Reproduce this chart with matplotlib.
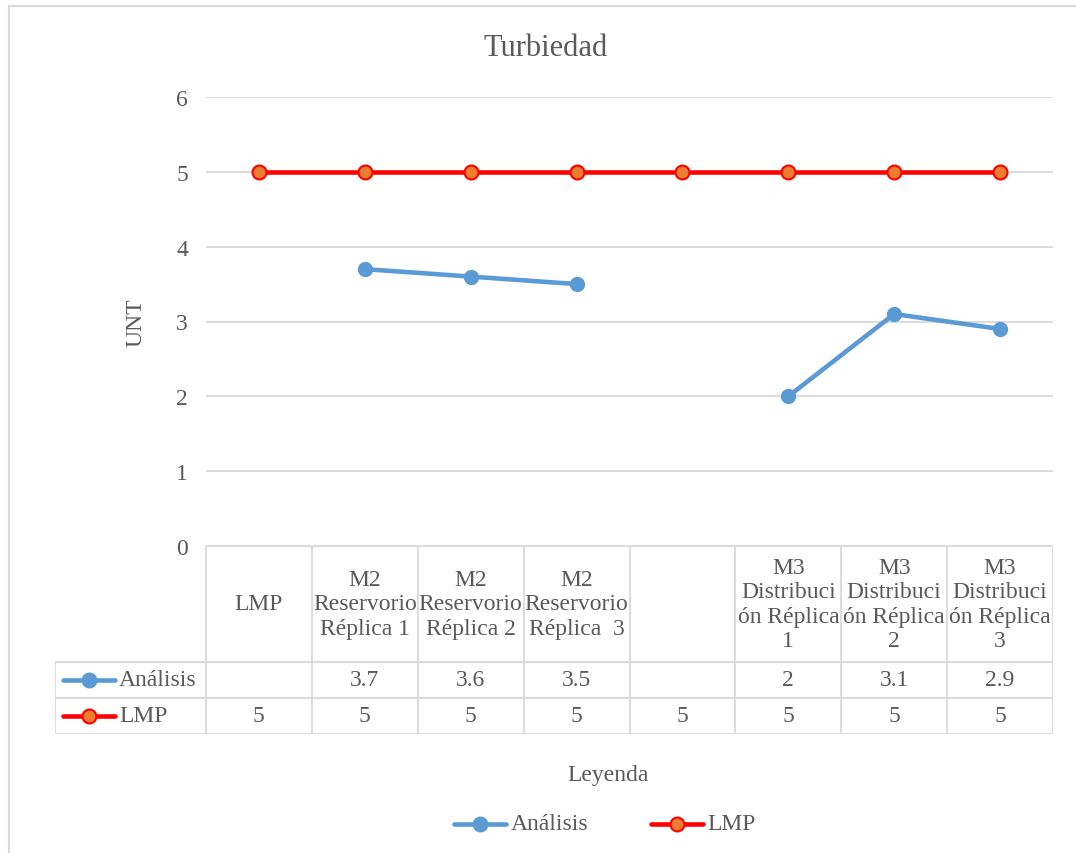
import numpy as np
import matplotlib
matplotlib.use("Agg")
import matplotlib.pyplot as plt
from matplotlib.lines import Line2D

# data
categorias = ["LMP", "M2\nReservorio\nRéplica 1", "M2\nReservorio\nRéplica 2",
              "M2\nReservorio\nRéplica  3", "", "M3\nDistribuci\nón Réplica\n1",
              "M3\nDistribuci\nón Réplica\n2", "M3\nDistribuci\nón Réplica\n3"]
analisis = [np.nan, 3.7, 3.6, 3.5, np.nan, 2, 3.1, 2.9]
lmp = [5, 5, 5, 5, 5, 5, 5, 5]
analisis_txt = ["", "3.7", "3.6", "3.5", "", "2", "3.1", "2.9"]
lmp_txt = ["5", "5", "5", "5", "5", "5", "5", "5"]
yticks = [0, 1, 2, 3, 4, 5, 6]

plt.rcParams['font.family'] = ['Liberation Serif', 'DejaVu Serif']
gris = "#595959"
linea = "#d9d9d9"
azul = "#5B9BD5"
W, H = 1076, 854
fig = plt.figure(figsize=(W / 100, H / 100), dpi=100)

def fx(px):
    return px / W

def fy(py):
    return 1 - py / H

# chart border (top and left visible)
fig.add_artist(Line2D([fx(9), 1], [fy(7), fy(7)], color=linea, lw=1.5))
fig.add_artist(Line2D([fx(9), fx(9)], [fy(7), 0], color=linea, lw=1.5))

# plot area
x0, x1, ytop, ybot = 206, 1053, 98, 547
ax = fig.add_axes([fx(x0), fy(ybot), fx(x1) - fx(x0), fy(ytop) - fy(ybot)])
n = len(categorias)
x = np.arange(n)
ax.set_xlim(-0.5, n - 0.5)
ax.set_ylim(0, 6)
ax.set_yticks(yticks)
ax.grid(axis="y", color=linea, lw=1.3)
ax.set_axisbelow(True)
for s in ax.spines.values():
    s.set_visible(False)
ax.tick_params(axis="y", length=0, pad=13, labelsize=17, labelcolor=gris)
ax.tick_params(axis="x", length=0, labelbottom=False)
ax.set_yticklabels([str(t) for t in yticks])
ax.set_ylabel("UNT", fontsize=17, color=gris, labelpad=21)

ax.plot(x, analisis, color=azul, lw=3.3, marker="o", ms=10, mfc=azul, mec=azul,
        solid_capstyle="round", zorder=3)
ax.plot(x, lmp, color="#FF0000", lw=3.3, marker="o", ms=10, mfc="#ED7D31",
        mec="#FF0000", mew=1.5, zorder=3)

fig.text(fx(546), fy(48), "Turbiedad", ha="center", va="center", fontsize=22, color=gris)

# data table
tl = 55
unit = (x1 - x0) / n
tab = fig.add_axes([fx(tl), fy(735), fx(x1) - fx(tl), fy(547) - fy(735)])
tab.set_xlim(-0.5 - (x0 - tl) / unit, n - 0.5)
tab.set_ylim(0, 188)
tab.axis("off")
xl = -0.5 - (x0 - tl) / unit
# horizontal lines
tab.plot([-0.5, n - 0.5], [188, 188], color=linea, lw=1.3)
for yy in [72, 36, 0]:
    tab.plot([xl, n - 0.5], [yy, yy], color=linea, lw=1.3)
# vertical lines
for b in np.arange(-0.5, n + 0.5, 1):
    tab.plot([b, b], [0, 188], color=linea, lw=1.3)
tab.plot([xl, xl], [0, 72], color=linea, lw=1.3)

for i in range(n):
    tab.text(x[i], 130, categorias[i], ha="center", va="center", fontsize=17,
             color=gris, linespacing=1.2)
    tab.text(x[i], 54, analisis_txt[i], ha="center", va="center", fontsize=17, color=gris)
    tab.text(x[i], 18, lmp_txt[i], ha="center", va="center", fontsize=17, color=gris)

# row labels with legend keys
def clave(axis, xa, xb, yv, color, mfc, mec):
    axis.plot([xa, xb], [yv, yv], color=color, lw=3.3, solid_capstyle="round", clip_on=False)
    axis.plot([(xa + xb) / 2], [yv], marker="o", ms=10, mfc=mfc, mec=mec, mew=1.5,
              clip_on=False)

k0 = xl + 8 / unit
k1 = xl + 60 / unit
clave(tab, k0, k1, 54, azul, azul, azul)
clave(tab, k0, k1, 18, "#FF0000", "#ED7D31", "#FF0000")
tab.text(xl + 64 / unit, 54, "Análisis", ha="left", va="center", fontsize=17, color=gris)
tab.text(xl + 64 / unit, 18, "LMP", ha="left", va="center", fontsize=17, color=gris)

# legend below
fig.text(fx(608), fy(776), "Leyenda", ha="center", va="center", fontsize=17, color=gris)
leg = fig.add_axes([0, 0, 1, 1], facecolor="none")
leg.set_xlim(0, W)
leg.set_ylim(H, 0)
leg.axis("off")
clave(leg, 454, 506, 825, azul, azul, azul)
leg.text(511, 825, "Análisis", ha="left", va="center", fontsize=17, color=gris)
clave(leg, 651, 703, 825, "#FF0000", "#ED7D31", "#FF0000")
leg.text(707, 825, "LMP", ha="left", va="center", fontsize=17, color=gris)

fig.savefig("out.png", dpi=100)
